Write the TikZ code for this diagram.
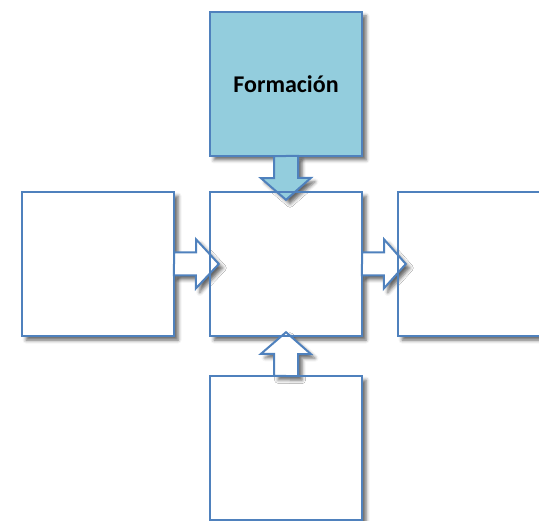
\documentclass[tikz,border=0pt]{standalone}
\usepackage{fontspec}
\setmainfont{Carlito}
\usetikzlibrary{shadows.blur,calc}
\definecolor{obl}{HTML}{4F81BD}
\definecolor{lbl}{HTML}{93CDDD}
\begin{document}
\begin{tikzpicture}[x=1pt,y=-1pt,
  shd/.style={blur shadow={shadow xshift=4pt, shadow yshift=-4pt, shadow blur radius=3.5pt, shadow opacity=60}},
  box/.style={rectangle, minimum width=152pt, minimum height=144pt, inner sep=0pt, fill=white, shd},
  outl/.style={draw=obl, line width=2pt},
  barrow/.style={draw=obl, line width=2pt, fill=white, line join=miter, shd}]
\useasboundingbox (0,0) rectangle (539,521);
\clip (0,0) rectangle (539,521);
\node[box, fill=lbl, font=\bfseries\fontsize{24}{28}\selectfont] (t) at (286,84) {Formación};
\node[box] (c) at (286,264) {};
\node[box] (l) at (98,264) {};
\node[box] (r) at (474,264) {};
\node[box] (b) at (286,448) {};
% block arrows
\draw[barrow, fill=lbl] ($(t.south)+(-12,0)$) -- ++(0,22) -- ++(-13,0) -- ($(c.north)+(0,8)$) -- ++(25,-22) -- ++(-13,0) -- ++(0,-22) -- cycle;
\draw[barrow] ($(l.east)+(0,-11.5)$) -- ++(22,0) -- ++(0,-13) -- ($(c.west)+(9,0)$) -- ++(-23,24.5) -- ++(0,-13) -- ++(-22,0) -- cycle;
\draw[barrow] ($(c.east)+(0,-11.5)$) -- ++(22,0) -- ++(0,-13) -- ($(r.west)+(8,0)$) -- ++(-22,24.5) -- ++(0,-13) -- ++(-22,0) -- cycle;
\draw[barrow] ($(b.north)+(-12,0)$) -- ++(0,-22) -- ++(-13,0) -- ($(c.south)+(0,-4)$) -- ++(25,22) -- ++(-13,0) -- ++(0,22) -- cycle;
% outlines
\foreach \n in {t,c,l,r,b} {\draw[outl] (\n.south west) rectangle (\n.north east);}
\end{tikzpicture}
\end{document}
